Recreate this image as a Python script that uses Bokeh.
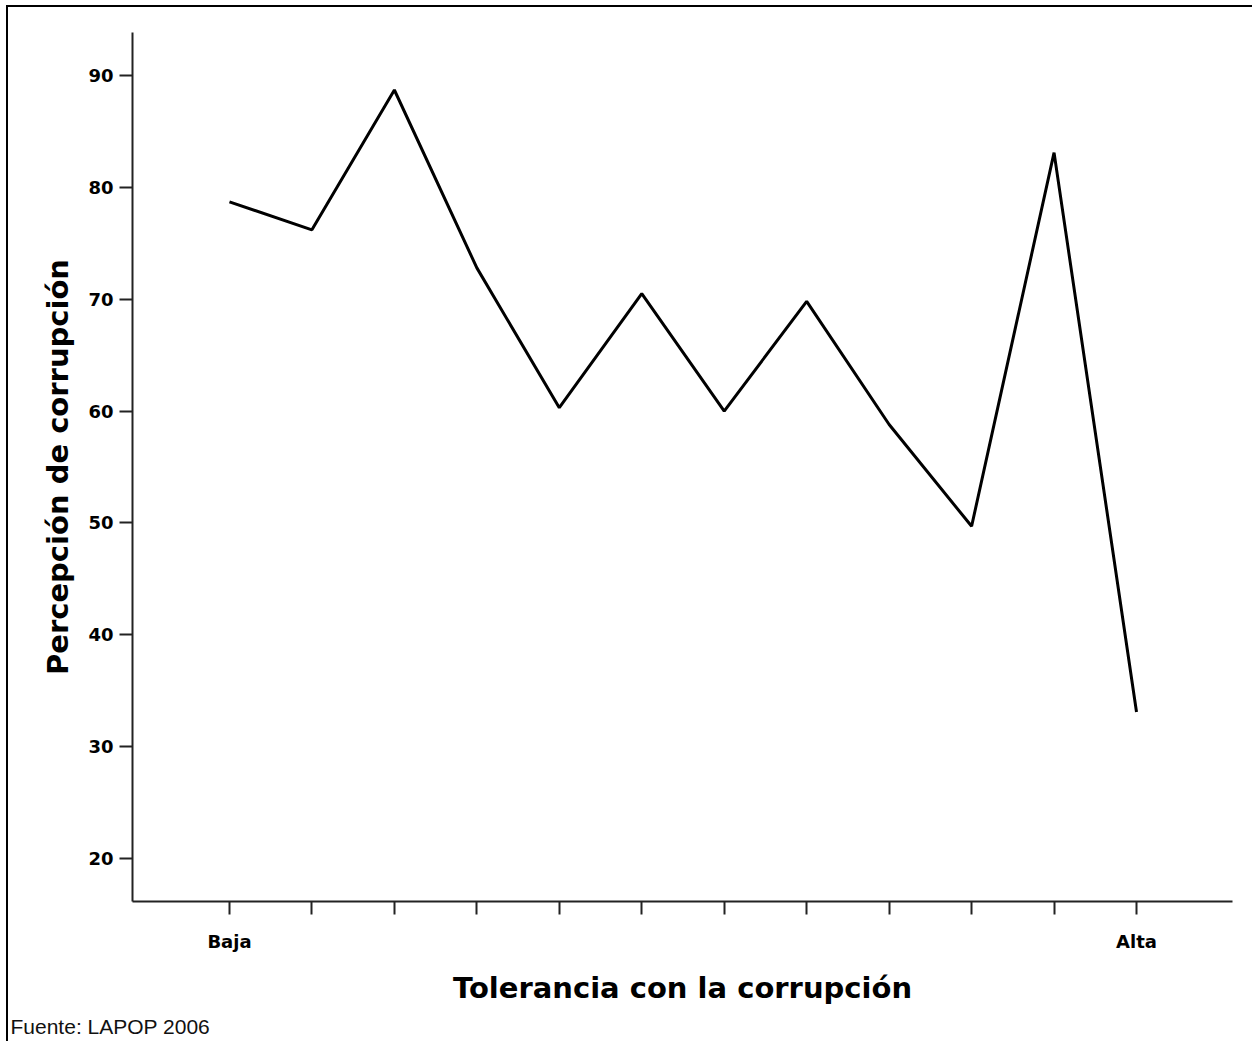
from bokeh.plotting import figure
from bokeh.models import FixedTicker, Range1d, Title
from bokeh.embed import file_html
from bokeh.resources import INLINE

# Data
positions = [0, 1, 2, 3, 4, 5, 6, 7, 8, 9, 10, 11]
percepcion = [78.7, 76.2, 88.7, 72.8, 60.3, 70.5, 60.0, 69.8, 58.8, 49.7, 83.1, 33.1]
x_tick_labels = ["Baja", "", "", "", "", "", "", "", "", "", "", "Alta"]
y_ticks = [20, 30, 40, 50, 60, 70, 80, 90]

FONT_B = "DejaVu Sans"

p = figure(width=1246, height=1036, output_backend="svg", toolbar_location=None,
           x_range=Range1d(-1.176, 12.164), y_range=Range1d(16.16, 93.84),
           min_border_left=124, min_border_right=22, min_border_top=25, min_border_bottom=141)
p.outline_line_color = None
p.xgrid.grid_line_color = None
p.ygrid.grid_line_color = None
p.background_fill_color = "white"
p.border_fill_color = "white"

p.line(positions, percepcion, line_color="black", line_width=3)

for ax in (p.xaxis[0], p.yaxis[0]):
    ax.axis_line_color = "#222222"
    ax.axis_line_width = 2
    ax.major_tick_line_color = "#222222"
    ax.major_tick_line_width = 2
    ax.major_tick_in = 0
    ax.major_tick_out = 13
    ax.minor_tick_line_color = None
    ax.major_label_text_font = FONT_B
    ax.major_label_text_font_style = "bold"
    ax.major_label_text_font_size = "18px"
    ax.major_label_text_color = "black"
    ax.axis_label_text_font = FONT_B
    ax.axis_label_text_font_style = "bold"
    ax.axis_label_text_font_size = "29px"
    ax.axis_label_text_color = "black"

p.xaxis.ticker = FixedTicker(ticks=positions)
p.xaxis.major_label_overrides = {pos: lab for pos, lab in zip(positions, x_tick_labels)}
p.xaxis.axis_label = "Tolerancia con la corrupción"
p.xaxis.major_label_standoff = 16
p.xaxis.axis_label_standoff = 16

p.yaxis.ticker = FixedTicker(ticks=y_ticks)
p.yaxis.axis_label = "Percepción de corrupción"
p.yaxis.major_label_standoff = 6
p.yaxis.axis_label_standoff = 10

src = Title(text="Fuente: LAPOP 2006", align="left", offset=-122,
            text_font="Liberation Sans", text_font_style="normal",
            text_font_size="21px", text_color="#111111", standoff=11)
p.add_layout(src, "below")

# outer frame (top and left edges visible, as in the cropped original)
p.styles = {"margin-top": "5px", "margin-left": "6px",
            "border-top": "2px solid black", "border-left": "2px solid black"}

open("out.html", "w").write(file_html(p, INLINE))
